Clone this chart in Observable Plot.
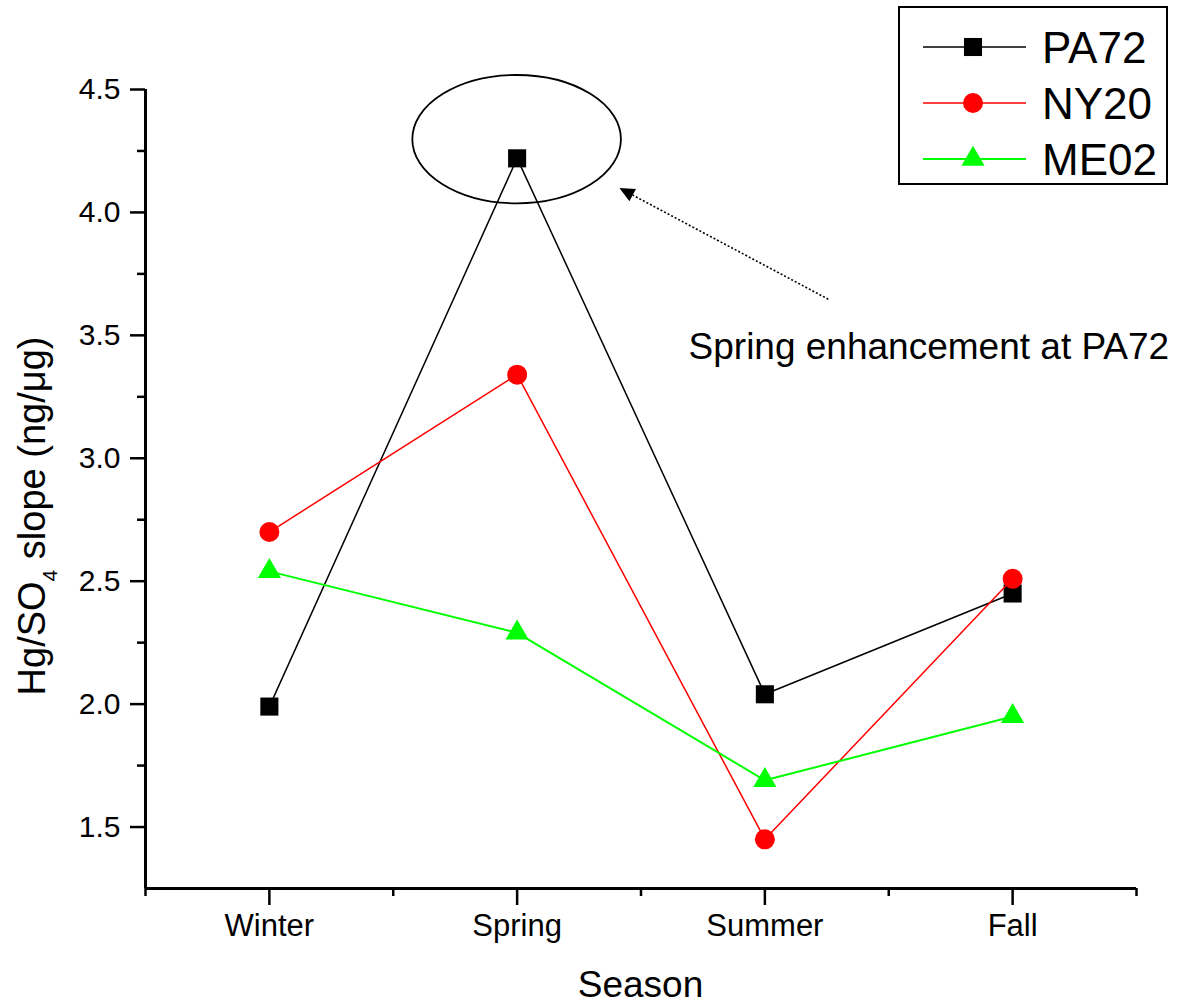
<!DOCTYPE html>
<html><head><meta charset="utf-8">
<script src="https://cdn.jsdelivr.net/npm/d3@7"></script>
<script src="https://cdn.jsdelivr.net/npm/@observablehq/plot@0.6"></script>
<style>body{margin:0;background:#fff;} svg{display:block}</style>
</head><body><div id="chart"></div>
<script>
// ---- data ----
const seasons = ["Winter", "Spring", "Summer", "Fall"];
const seriesNames = ["PA72", "NY20", "ME02"];
const pa72 = [1.99, 4.22, 2.04, 2.45];
const ny20 = [2.70, 3.34, 1.45, 2.51];
const me02 = [2.54, 2.29, 1.69, 1.95];
const yTicks = [1.5, 2.0, 2.5, 3.0, 3.5, 4.0, 4.5];
const yMinorTicks = [1.75, 2.25, 2.75, 3.25, 3.75, 4.25];
const xMinorTicks = [0.5, 1.5, 2.5, 3.5, 4.5];
const annotationText = "Spring enhancement at PA72";
const yLabelParts = ["Hg/SO", "4", " slope (ng/\u03bcg)"];
const xLabel = "Season";

// ---- styles / annotation geometry (data units) ----
const styles = {
  PA72: {color: "#000000", symbol: "square", r: 10.2, width: 1.5},
  NY20: {color: "#ff0000", symbol: "circle", r: 10, width: 1.5},
  ME02: {color: "#00ff00", symbol: "triangle", r: 8.6, width: 2}
};
const ellipseAnn = {x: 2, y: 4.296, rx: 0.421, ry: 0.261};
const arrowAnn = {x1: 3.258, y1: 3.645, x2: 2.415, y2: 4.097};
const textAnn = {x: 2.694, y: 3.40};

const values = {PA72: pa72, NY20: ny20, ME02: me02};
const rows = seriesNames.flatMap(s => seasons.map((season, i) => ({series: s, season, x: i + 1, value: values[s][i]})));

const font = "'Liberation Sans', Arial, Helvetica, sans-serif";

function annotations(index, scales, vals, dims) {
  const X = scales.x, Y = scales.y;
  const g = d3.create("svg:g").attr("text-anchor", "start");
  // ellipse
  const cx = X(ellipseAnn.x), cy = Y(ellipseAnn.y);
  g.append("ellipse").attr("cx", cx).attr("cy", cy)
    .attr("rx", X(ellipseAnn.x + ellipseAnn.rx) - cx)
    .attr("ry", cy - Y(ellipseAnn.y + ellipseAnn.ry))
    .attr("fill", "none").attr("stroke", "#000").attr("stroke-width", 1.8);
  // arrow
  const ax1 = X(arrowAnn.x1), ay1 = Y(arrowAnn.y1), ax2 = X(arrowAnn.x2), ay2 = Y(arrowAnn.y2);
  const dx = ax2 - ax1, dy = ay2 - ay1, len = Math.hypot(dx, dy);
  const ux = dx / len, uy = dy / len, hl = 15, hw = 7;
  const bx = ax2 - ux * hl, by = ay2 - uy * hl;
  g.append("line").attr("x1", ax1).attr("y1", ay1).attr("x2", bx).attr("y2", by)
    .attr("stroke", "#000").attr("stroke-width", 1.6).attr("stroke-dasharray", "2,2");
  g.append("path").attr("d", `M${ax2},${ay2}L${bx - uy * hw},${by + ux * hw}L${bx + uy * hw},${by - ux * hw}Z`)
    .attr("fill", "#000");
  // annotation text
  g.append("text").attr("x", X(textAnn.x)).attr("y", Y(textAnn.y)).attr("text-anchor", "start")
    .attr("font-size", 37).attr("fill", "#000").text(annotationText);
  // y label
  const yl = g.append("text").attr("transform", `translate(45,516) rotate(-90)`)
    .attr("text-anchor", "middle").attr("font-size", 38).attr("fill", "#000");
  yl.append("tspan").text(yLabelParts[0]);
  yl.append("tspan").attr("font-size", 21).attr("dy", 12).text(yLabelParts[1]);
  yl.append("tspan").attr("dy", -12).text(yLabelParts[2]);
  // x label
  g.append("text").attr("x", (dims.marginLeft + dims.width - dims.marginRight) / 2).attr("y", 997)
    .attr("text-anchor", "middle").attr("font-size", 37).attr("fill", "#000").text(xLabel);
  // legend
  const lx = 899, ly = 7, lw = 268, lh = 177;
  g.append("rect").attr("x", lx).attr("y", ly).attr("width", lw).attr("height", lh)
    .attr("fill", "#fff").attr("stroke", "#000").attr("stroke-width", 2);
  seriesNames.forEach((s, i) => {
    const st = styles[s], yy = 47 + i * 56;
    g.append("line").attr("x1", 923).attr("x2", 1026).attr("y1", yy).attr("y2", yy)
      .attr("stroke", st.color).attr("stroke-width", st.width);
    const sym = {square: d3.symbolSquare, circle: d3.symbolCircle, triangle: d3.symbolTriangle}[st.symbol];
    g.append("path").attr("transform", `translate(973,${yy})`)
      .attr("d", d3.symbol(sym, Math.PI * st.r * st.r)()).attr("fill", st.color);
    g.append("text").attr("x", 1042).attr("y", yy).attr("dy", "0.36em").attr("text-anchor", "start")
      .attr("font-size", 44).attr("fill", "#000").text(s);
  });
  return g.node();
}

const marks = [
  Plot.ruleX([0.5], {strokeWidth: 3}),
  Plot.ruleY([1.25], {strokeWidth: 3}),
  Plot.axisY({ticks: yMinorTicks, tickSize: 8, strokeWidth: 2.5, tickFormat: () => "", label: null}),
  Plot.axisY({ticks: yTicks, tickSize: 15, tickPadding: 10, strokeWidth: 2.5, tickFormat: d3.format(".1f"), fontSize: 30, label: null}),
  Plot.axisX({ticks: xMinorTicks, tickSize: 8, strokeWidth: 2.5, tickFormat: () => "", label: null}),
  Plot.axisX({ticks: [1, 2, 3, 4], tickSize: 17, tickPadding: 8, strokeWidth: 2.5, tickFormat: d => seasons[d - 1], fontSize: 31, label: null})
];
seriesNames.forEach(s => {
  const st = styles[s];
  const d = rows.filter(r => r.series === s);
  marks.push(Plot.line(d, {x: "x", y: "value", stroke: st.color, strokeWidth: st.width}));
  marks.push(Plot.dot(d, {x: "x", y: "value", symbol: st.symbol, r: st.r, fill: st.color, stroke: "none"}));
});
marks.push(annotations);

const chart = Plot.plot({
  width: 1179, height: 1004,
  marginLeft: 145, marginRight: 43, marginTop: 89, marginBottom: 116,
  style: {fontFamily: font, background: "#fff", color: "#000", overflow: "visible"},
  x: {domain: [0.5, 4.5]},
  y: {domain: [1.25, 4.5]},
  marks
});
document.getElementById("chart").append(chart);
</script>
</body></html>
